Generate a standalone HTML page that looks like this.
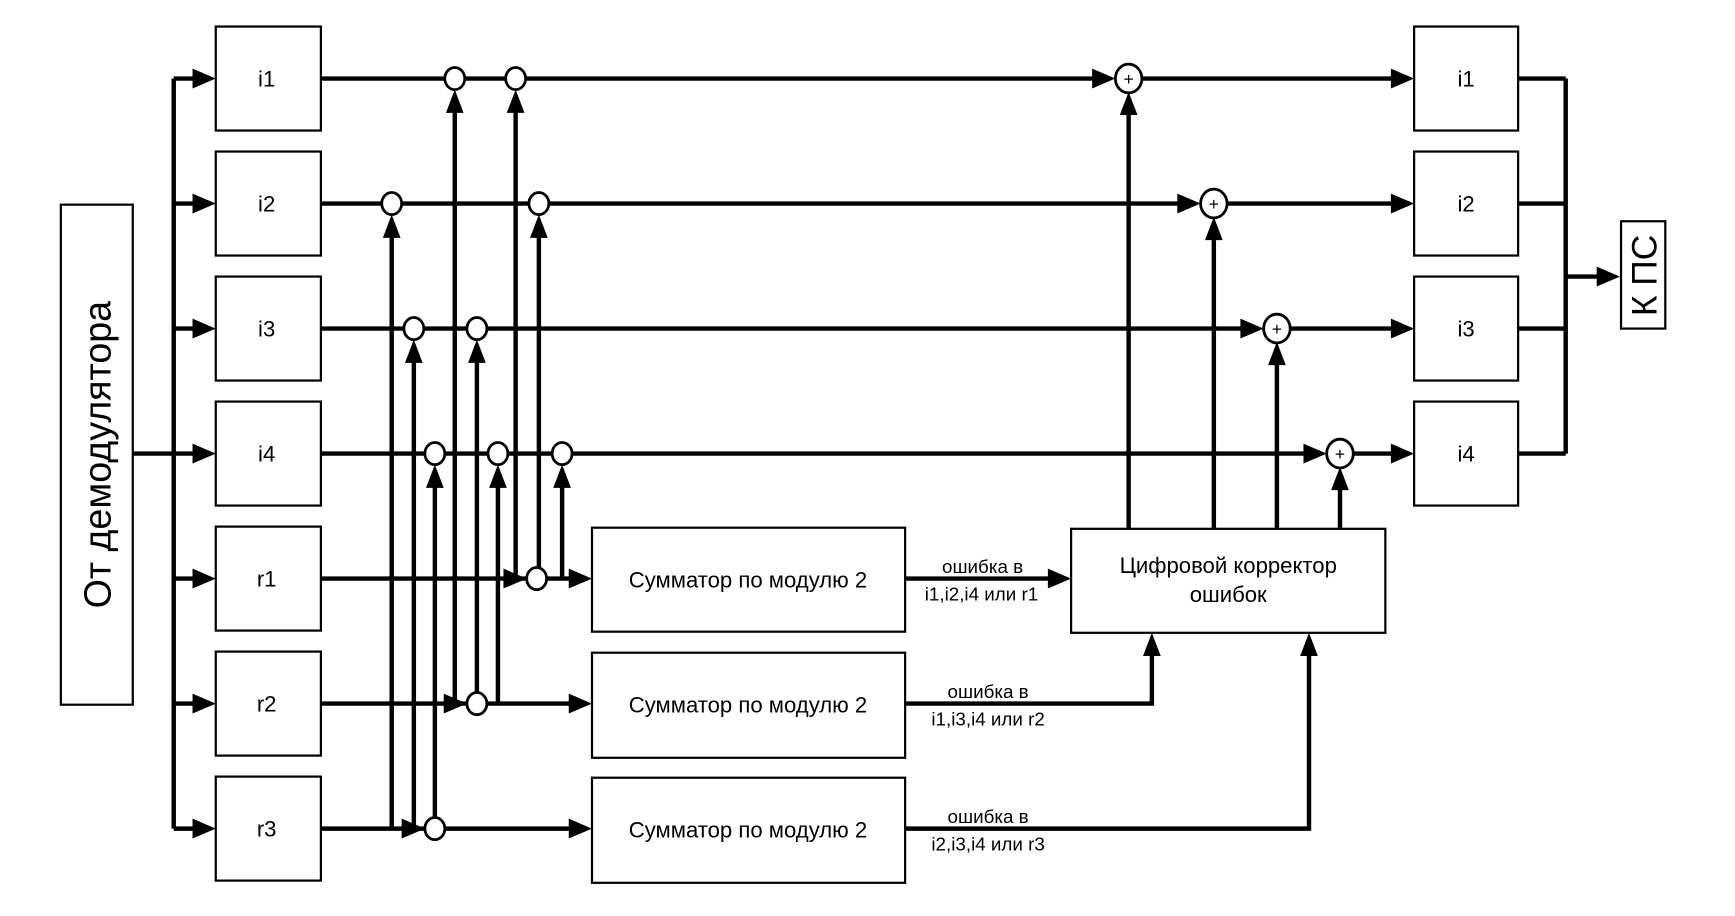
<!DOCTYPE html>
<html><head><meta charset="utf-8"><style>html,body{margin:0;padding:0;background:#fff}svg{display:block}</style></head><body>
<svg width="1735" height="916" viewBox="0 0 1568 828" preserveAspectRatio="none" xmlns="http://www.w3.org/2000/svg" font-family="Liberation Sans, sans-serif">
<g stroke="#000" stroke-width="4" fill="none">
<line x1="120" y1="410" x2="157" y2="410"/>
<line x1="157" y1="71" x2="157" y2="749"/>
<line x1="157" y1="71" x2="180" y2="71"/><line x1="157" y1="184" x2="180" y2="184"/><line x1="157" y1="297" x2="180" y2="297"/><line x1="157" y1="410" x2="180" y2="410"/><line x1="157" y1="523" x2="180" y2="523"/><line x1="157" y1="636" x2="180" y2="636"/><line x1="157" y1="749" x2="180" y2="749"/>
<line x1="290" y1="71" x2="1000" y2="71"/><line x1="1032" y1="71" x2="1262" y2="71"/>
<line x1="290" y1="184" x2="1077" y2="184"/><line x1="1109" y1="184" x2="1262" y2="184"/>
<line x1="290" y1="297" x2="1134" y2="297"/><line x1="1166" y1="297" x2="1262" y2="297"/>
<line x1="290" y1="410" x2="1191" y2="410"/><line x1="1223" y1="410" x2="1262" y2="410"/>
<line x1="1372" y1="71" x2="1415" y2="71"/><line x1="1372" y1="184" x2="1415" y2="184"/><line x1="1372" y1="297" x2="1415" y2="297"/><line x1="1372" y1="410" x2="1415" y2="410"/>
<line x1="1415" y1="71" x2="1415" y2="410"/><line x1="1415" y1="250" x2="1448" y2="250"/>
<line x1="290" y1="523" x2="520" y2="523"/><line x1="290" y1="636" x2="520" y2="636"/><line x1="290" y1="749" x2="520" y2="749"/>
<line x1="411" y1="636" x2="411" y2="95"/><line x1="466" y1="523" x2="466" y2="95"/>
<line x1="354" y1="749" x2="354" y2="208"/><line x1="487" y1="513" x2="487" y2="208"/>
<line x1="374" y1="749" x2="374" y2="321"/><line x1="431" y1="626" x2="431" y2="321"/>
<line x1="393" y1="739" x2="393" y2="434"/><line x1="450" y1="636" x2="450" y2="434"/><line x1="508" y1="523" x2="508" y2="434"/>
<line x1="818" y1="523" x2="952" y2="523"/>
<polyline points="818,636 1041,636 1041,590"/>
<polyline points="818,749 1183,749 1183,590"/>
<line x1="1020" y1="478" x2="1020" y2="100"/><line x1="1097" y1="478" x2="1097" y2="213"/><line x1="1154" y1="478" x2="1154" y2="326"/><line x1="1211" y1="478" x2="1211" y2="439"/>
</g>
<g fill="#000">
<polygon points="174,62 195,71 174,80"/><polygon points="174,175 195,184 174,193"/><polygon points="174,288 195,297 174,306"/><polygon points="174,401 195,410 174,419"/><polygon points="174,514 195,523 174,532"/><polygon points="174,627 195,636 174,645"/><polygon points="174,740 195,749 174,758"/>
<polygon points="987,62 1008,71 987,80"/><polygon points="1064,175 1085,184 1064,193"/><polygon points="1121,288 1142,297 1121,306"/><polygon points="1178,401 1199,410 1178,419"/>
<polygon points="1257,62 1278,71 1257,80"/><polygon points="1257,175 1278,184 1257,193"/><polygon points="1257,288 1278,297 1257,306"/><polygon points="1257,401 1278,410 1257,419"/>
<polygon points="1443,241 1464,250 1443,259"/>
<polygon points="514,514 535,523 514,532"/><polygon points="514,627 535,636 514,645"/><polygon points="514,740 535,749 514,758"/>
<polygon points="455,514 476,523 455,532"/><polygon points="401,627 422,636 401,645"/><polygon points="363,740 384,749 363,758"/>
<polygon points="947,514 968,523 947,532"/>
<polygon points="403,102 411,81 419,102"/><polygon points="458,102 466,81 474,102"/>
<polygon points="346,215 354,194 362,215"/><polygon points="479,215 487,194 495,215"/>
<polygon points="366,328 374,307 382,328"/><polygon points="423,328 431,307 439,328"/>
<polygon points="385,441 393,420 401,441"/><polygon points="442,441 450,420 458,441"/><polygon points="500,441 508,420 516,441"/>
<polygon points="1012,104 1020,83 1028,104"/><polygon points="1089,217 1097,196 1105,217"/><polygon points="1146,330 1154,309 1162,330"/><polygon points="1203,443 1211,422 1219,443"/>
<polygon points="1033,593 1041,572 1049,593"/><polygon points="1175,593 1183,572 1191,593"/>
</g>
<g fill="#fff" stroke="#000" stroke-width="2.5">
<ellipse cx="411" cy="71" rx="9" ry="10"/><ellipse cx="466" cy="71" rx="9" ry="10"/>
<ellipse cx="354" cy="184" rx="9" ry="10"/><ellipse cx="487" cy="184" rx="9" ry="10"/>
<ellipse cx="374" cy="297" rx="9" ry="10"/><ellipse cx="431" cy="297" rx="9" ry="10"/>
<ellipse cx="393" cy="410" rx="9" ry="10"/><ellipse cx="450" cy="410" rx="9" ry="10"/><ellipse cx="508" cy="410" rx="9" ry="10"/>
<ellipse cx="485" cy="523" rx="9" ry="10"/><ellipse cx="431" cy="636" rx="9" ry="10"/><ellipse cx="393" cy="749" rx="9" ry="10"/>
<ellipse cx="1020" cy="71" rx="12" ry="13"/><ellipse cx="1097" cy="184" rx="12" ry="13"/><ellipse cx="1154" cy="297" rx="12" ry="13"/><ellipse cx="1211" cy="410" rx="12" ry="13"/>
</g>
<g font-size="16" text-anchor="middle" fill="#000">
<text x="1020" y="77">+</text><text x="1097" y="190">+</text><text x="1154" y="303">+</text><text x="1211" y="416">+</text>
</g>
<g fill="#fff" stroke="#000" stroke-width="2">
<rect x="55" y="185" width="65" height="452"/>
<rect x="195" y="24" width="95" height="94"/><rect x="195" y="137" width="95" height="94"/><rect x="195" y="250" width="95" height="94"/><rect x="195" y="363" width="95" height="94"/><rect x="195" y="476" width="95" height="94"/><rect x="195" y="589" width="95" height="94"/><rect x="195" y="702" width="95" height="94"/>
<rect x="1278" y="24" width="94" height="94"/><rect x="1278" y="137" width="94" height="94"/><rect x="1278" y="250" width="94" height="94"/><rect x="1278" y="363" width="94" height="94"/>
<rect x="1465" y="200" width="40" height="97"/>
<rect x="535" y="477" width="283" height="94"/><rect x="535" y="590" width="283" height="95"/><rect x="535" y="703" width="283" height="95"/>
<rect x="968" y="478" width="284" height="94"/>
</g>
<g fill="#000" font-size="20" text-anchor="middle">
<text x="241" y="78">i1</text><text x="241" y="191">i2</text><text x="241" y="304">i3</text><text x="241" y="417">i4</text><text x="241" y="530">r1</text><text x="241" y="643">r2</text><text x="241" y="756">r3</text>
<text x="1325" y="78">i1</text><text x="1325" y="191">i2</text><text x="1325" y="304">i3</text><text x="1325" y="417">i4</text>
<text x="676" y="531">Сумматор по модулю 2</text><text x="676" y="644">Сумматор по модулю 2</text><text x="676" y="757">Сумматор по модулю 2</text>
<text x="1110" y="518">Цифровой корректор</text><text x="1110" y="544">ошибок</text>
<text transform="translate(100,411) rotate(-90)" font-size="34">От демодулятора</text>
<text transform="translate(1497,249) rotate(-90)" font-size="32">К ПС</text>
</g>
<g fill="#000" font-size="17" text-anchor="middle">
<text x="888" y="518">ошибка в</text><text x="887" y="543">i1,i2,i4 или r1</text>
<text x="893" y="631">ошибка в</text><text x="893" y="656">i1,i3,i4 или r2</text>
<text x="893" y="744">ошибка в</text><text x="893" y="769">i2,i3,i4 или r3</text>
</g>
</svg>
</body></html>
